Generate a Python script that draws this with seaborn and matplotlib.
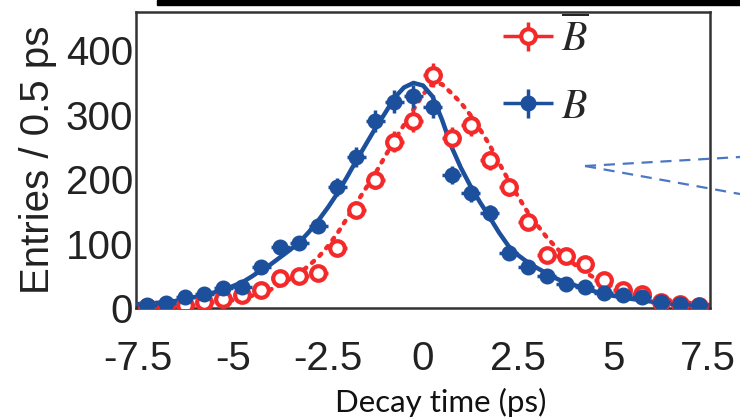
import numpy as np
import pandas as pd
import matplotlib
matplotlib.use("Agg")
import matplotlib.pyplot as plt
import seaborn as sns
from matplotlib.patches import Rectangle
from matplotlib.lines import Line2D
from matplotlib.container import ErrorbarContainer
from matplotlib.legend_handler import HandlerErrorbar
from matplotlib.ticker import MultipleLocator

# ---------------- data ----------------
bin_centers = [-7.25, -6.75, -6.25, -5.75, -5.25, -4.75, -4.25, -3.75, -3.25, -2.75,
               -2.25, -1.75, -1.25, -0.75, -0.25, 0.25, 0.75, 1.25, 1.75, 2.25,
               2.75, 3.25, 3.75, 4.25, 4.75, 5.25, 5.75, 6.25, 6.75, 7.25]
bin_halfwidth = [0.25] * 30

b_counts = [4, 7, 17, 21, 31, 33, 64, 95, 101, 127,
            188, 234, 290, 320, 328, 312, 206, 178, 147, 85,
            64, 50, 37, 33, 23, 20, 17, 10, 6, 4]
b_errors = [2, 3, 4, 5, 6, 6, 8, 10, 10, 11,
            14, 15, 17, 18, 18, 18, 14, 13, 12, 9,
            8, 7, 6, 6, 5, 4, 4, 3, 2, 2]

bbar_counts = [2, 3, 5, 9, 14, 20, 28, 46, 50, 54,
               93, 152, 198, 258, 290, 361, 264, 283, 229, 188,
               133, 82, 80, 68, 43, 28, 22, 10, 6, 3]
bbar_errors = [1, 2, 2, 3, 4, 4, 5, 7, 7, 7,
               10, 12, 14, 16, 17, 19, 16, 17, 15, 14,
               12, 9, 9, 8, 7, 5, 5, 3, 2, 2]

fit_b_t = [-7.5, -7.0, -6.5, -6.25, -6.0, -5.75, -5.5, -5.25, -5.0, -4.75, -4.5, -4.25,
           -4.0, -3.75, -3.5, -3.25, -3.0, -2.75, -2.5, -2.25, -2.0, -1.75, -1.5, -1.25,
           -1.0, -0.75, -0.5, -0.25, 0.0, 0.25, 0.5, 0.75, 1.0, 1.25, 1.5, 1.75,
           2.0, 2.25, 2.5, 2.75, 3.0, 3.25, 3.5, 3.75, 4.0, 4.25, 4.5, 4.75,
           5.0, 5.5, 6.0, 6.5, 7.0, 7.5]
fit_b_y = [6, 8, 11, 15, 17, 20, 24, 28, 34, 40, 49, 59,
           68, 79, 90, 102, 118, 136, 156, 178, 203, 229, 254, 279,
           302, 326, 342, 349, 345, 328, 292, 250, 217, 189, 164, 141,
           117, 96, 82, 71, 62, 54, 46, 39, 35, 31, 26, 22,
           19, 14, 10, 7, 5, 4]

fit_bbar_t = [-7.5, -7.0, -6.5, -6.0, -5.5, -5.25, -5.0, -4.75, -4.5, -4.25, -4.0, -3.75,
              -3.5, -3.25, -3.0, -2.75, -2.5, -2.25, -2.0, -1.75, -1.5, -1.25, -1.0, -0.75,
              -0.5, -0.25, 0.0, 0.25, 0.5, 0.75, 1.0, 1.25, 1.5, 1.75, 2.0, 2.25,
              2.5, 2.75, 3.0, 3.25, 3.5, 3.75, 4.0, 4.25, 4.5, 4.75, 5.0, 5.5,
              6.0, 6.5, 7.0, 7.5]
fit_bbar_y = [2, 3, 4, 6, 9, 10, 12, 15, 19, 23, 29, 36,
              45, 54, 66, 79, 96, 116, 139, 163, 186, 209, 235, 260,
              284, 308, 331, 348, 347, 333, 318, 299, 277, 253, 225, 198,
              173, 149, 129, 110, 94, 79, 67, 56, 47, 39, 33, 23,
              17, 12, 8, 5]

x_ticks = [-7.5, -5, -2.5, 0, 2.5, 5, 7.5]
x_ticklabels = ["-7.5", "-5", "-2.5", "0", "2.5", "5", "7.5"]
y_ticks = [0, 100, 200, 300, 400]
labels = [r"$\overline{B}$", r"$B$"]

RED = "#f42a2a"
BLUE = "#1c4f9c"

# ---------------- style ----------------
sns.set_theme(style="white")
plt.rcParams["font.family"] = ["Liberation Sans", "DejaVu Sans"]
plt.rcParams["mathtext.fontset"] = "stix"

fig = plt.figure(figsize=(7.4, 4.19), dpi=100)
ax = fig.add_axes([136 / 740, 1 - 308 / 419, (710 - 136) / 740, (308 - 12) / 419])

fb = pd.DataFrame({"t": fit_b_t, "n": fit_b_y})
fbb = pd.DataFrame({"t": fit_bbar_t, "n": fit_bbar_y})
sns.lineplot(data=fbb, x="t", y="n", ax=ax, color=RED, lw=3.2,
             linestyle=(0, (0.6, 1.7)), dash_capstyle="round", zorder=2)
sns.lineplot(data=fb, x="t", y="n", ax=ax, color=BLUE, lw=3.2, zorder=3)

eb_red = ax.errorbar(bin_centers, bbar_counts, xerr=bin_halfwidth, yerr=bbar_errors,
                     fmt="o", ms=10.5, mfc="white", mec=RED, mew=3, ecolor=RED,
                     elinewidth=2.5, capsize=0, zorder=4)
eb_blue = ax.errorbar(bin_centers, b_counts, xerr=bin_halfwidth, yerr=b_errors,
                      fmt="o", ms=10.5, mfc=BLUE, mec=BLUE, mew=1, ecolor=BLUE,
                      elinewidth=2.5, capsize=0, zorder=5)

ax.set_xlim(-7.55, 7.55)
ax.set_ylim(0, 459)
ax.set_xticks(x_ticks)
ax.set_xticklabels(x_ticklabels)
ax.set_yticks(y_ticks)
ax.xaxis.set_minor_locator(MultipleLocator(0.5))
ax.yaxis.set_minor_locator(MultipleLocator(20))
ax.tick_params(axis="both", which="both", direction="in", colors="#222222",
               labelcolor="#222222", top=False, right=False)
ax.tick_params(axis="both", which="major", length=8.5, width=1.1, labelsize=29)
ax.tick_params(axis="both", which="minor", length=4.3, width=1.1)
ax.tick_params(axis="x", which="major", pad=23)
ax.tick_params(axis="y", which="major", pad=2)
for s in ax.spines.values():
    s.set_color("#333333")
    s.set_linewidth(1.8)

ax.set_xlabel("")
ax.set_ylabel("Entries / 0.5 ps", fontsize=29, color="#222222", labelpad=6)

fig.text(441 / 740, 1 - 412 / 419, "Decay time (ps)", fontsize=22.5,
         family=["Lato", "DejaVu Sans"], ha="center", va="baseline", color="#111111")

leg = ax.legend([eb_red, eb_blue], labels, loc="center left",
                bbox_to_anchor=(503 / 740, 1 - 72 / 419), bbox_transform=fig.transFigure,
                frameon=False, fontsize=30, handlelength=1.2, handletextpad=0.2,
                labelspacing=0.65, borderpad=0, borderaxespad=0,
                handler_map={ErrorbarContainer: HandlerErrorbar(xerr_size=0.6, yerr_size=0.35)})

# decorations of the cropped source picture
fig.patches.append(Rectangle((157 / 740, 1 - 5 / 419), (740 - 157) / 740, 5 / 419,
                             transform=fig.transFigure, color="black", zorder=10))
for yend in (157, 194):
    fig.add_artist(Line2D([585 / 740, 1.0], [1 - 166 / 419, 1 - yend / 419],
                          transform=fig.transFigure, color="#4a78c4", lw=1.6,
                          linestyle=(0, (5, 3.5)), zorder=10))

fig.savefig("out.png", dpi=100)
